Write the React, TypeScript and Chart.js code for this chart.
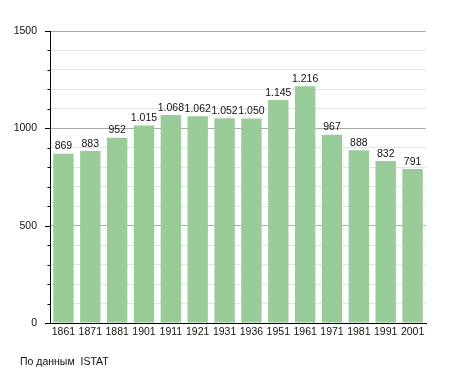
import React, { useEffect, useRef } from "react";
import { Chart, registerables } from "chart.js";

Chart.register(...registerables);

const categories = ["1861", "1871", "1881", "1901", "1911", "1921", "1931", "1936", "1951", "1961", "1971", "1981", "1991", "2001"];
const population = [869, 883, 952, 1015, 1068, 1062, 1052, 1050, 1145, 1216, 967, 888, 832, 791];
const yMajorTicks = [0, 500, 1000, 1500];
const footerText = "По данным  ISTAT";

const FONT = "'Liberation Sans', Arial, sans-serif";

function fmt(v: number): string {
  const s = String(v);
  if (v >= 1000) return s.slice(0, s.length - 3) + "." + s.slice(s.length - 3);
  return s;
}

const labelsPlugin = {
  id: "customLabels",
  afterDatasetsDraw(chart: any) {
    const ctx = chart.ctx;
    const meta = chart.getDatasetMeta(0);
    ctx.save();
    ctx.font = `10.5px ${FONT}`;
    ctx.fillStyle = "#111";
    ctx.textAlign = "center";
    ctx.textBaseline = "bottom";
    meta.data.forEach((bar: any, i: number) => {
      ctx.fillText(fmt(population[i]), bar.x, bar.y - 2);
    });
    ctx.restore();
  },
  afterDraw(chart: any) {
    const ctx = chart.ctx;
    const y = chart.scales.y;
    const left = chart.chartArea.left;
    ctx.save();
    ctx.strokeStyle = "#000";
    ctx.lineWidth = 1;
    for (let v = 0; v <= 1500; v += 100) {
      const py = Math.round(y.getPixelForValue(v)) + 0.5;
      const major = yMajorTicks.includes(v);
      ctx.beginPath();
      ctx.moveTo(left - (major ? 5 : 2.5), py);
      ctx.lineTo(left, py);
      ctx.stroke();
    }
    ctx.font = `10.5px ${FONT}`;
    ctx.fillStyle = "#111";
    ctx.textAlign = "left";
    ctx.textBaseline = "middle";
    ctx.fillText(footerText, 20, 362);
    ctx.restore();
  },
};

export default function App() {
  const ref = useRef<HTMLCanvasElement | null>(null);
  useEffect(() => {
    document.body.style.margin = "0";
    const chart = new Chart(ref.current as HTMLCanvasElement, {
      type: "bar",
      data: {
        labels: categories,
        datasets: [
          {
            data: population,
            backgroundColor: "#99cc99",
            borderWidth: 0,
            categoryPercentage: 1,
            barPercentage: 0.76,
          },
        ],
      },
      options: {
        animation: false,
        responsive: false,
        devicePixelRatio: 1,
        layout: { padding: { left: 0, top: 31, right: 29, bottom: 0 } },
        plugins: { legend: { display: false }, tooltip: { enabled: false } },
        scales: {
          x: {
            afterFit: (s: any) => {
              s.height = 50;
            },
            grid: { display: false, drawTicks: false },
            border: { color: "#000", width: 1 },
            ticks: { font: { family: FONT, size: 10.5 }, color: "#111", padding: 3, maxRotation: 0, autoSkip: false },
          },
          y: {
            min: 0,
            max: 1500,
            afterFit: (s: any) => {
              s.width = 50;
            },
            grid: {
              drawTicks: false,
              color: (c: any) => (c.tick && c.tick.value % 500 === 0 ? "#aaaaaa" : "#e4e4e4"),
            },
            border: { color: "#000", width: 1 },
            ticks: {
              stepSize: 100,
              padding: 13,
              font: { family: FONT, size: 10.5 },
              color: "#111",
              callback: (v: any) => (Number(v) % 500 === 0 ? String(v) : ""),
            },
          },
        },
      },
      plugins: [labelsPlugin],
    });
    return () => chart.destroy();
  }, []);
  return (
    <div style={{ position: "absolute", left: 0, top: 0, width: 455, height: 373 }}>
      <canvas ref={ref} width={455} height={373} style={{ width: 455, height: 373 }} />
    </div>
  );
}
